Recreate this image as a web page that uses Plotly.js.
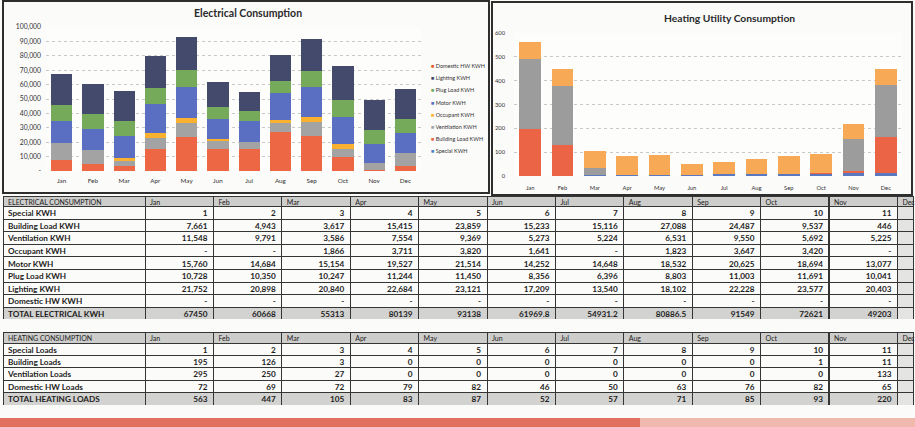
<!DOCTYPE html>
<html><head><meta charset="utf-8">
<script src="https://cdn.plot.ly/plotly-3.0.1.min.js"></script>
<style>html,body{margin:0;padding:0;background:#fbfbfa;}#chart{width:915px;height:427px;}</style>
</head><body><div id="chart"></div>
<script>
// ---------- data ----------
const months = ['Jan','Feb','Mar','Apr','May','Jun','Jul','Aug','Sep','Oct','Nov','Dec'];

// Electrical consumption (kWh); Dec (table column is cut off)
const elecSpecial   = [1,2,3,4,5,6,7,8,9,10,11,12];
const elecBuilding  = [7661,4943,3617,15415,23859,15233,15116,27088,24487,9537,446,3700];
const elecVent      = [11548,9791,3586,7554,9369,5273,5224,6531,9550,5692,5225,8500];
const elecOccupant  = [0,0,1866,3711,3820,1641,0,1823,3647,3420,0,0];
const elecMotor     = [15760,14684,15154,19527,21514,14252,14648,18532,20625,18694,13077,14400];
const elecPlug      = [10728,10350,10247,11244,11450,8356,6396,8803,11003,11691,10041,9700];
const elecLighting  = [21752,20898,20840,22684,23121,17209,13540,18102,22228,23577,20403,20300];
const elecDHW       = [0,0,0,0,0,0,0,0,0,0,0,0];
const elecTotals    = ['67450','60668','55313','80139','93138','61969.8','54931.2','80886.5','91549','72621','49203',''];

// Heating consumption; Dec
const heatSpecial   = [1,2,3,4,5,6,7,8,9,10,11,12];
const heatBuilding  = [195,126,3,0,0,0,0,0,0,1,11,150];
const heatVent      = [295,250,27,0,0,0,0,0,0,0,133,220];
const heatDHW       = [72,69,72,79,82,46,50,63,76,82,65,65];
const heatTotals    = ['563','447','105','83','87','52','57','71','85','93','220',''];

const elecTickVals  = [0,10000,20000,30000,40000,50000,60000,70000,80000,90000,100000];
const elecTickText  = ['-','10,000','20,000','30,000','40,000','50,000','60,000','70,000','80,000','90,000','100,000'];
const heatTickVals  = [0,100,200,300,400,500,600];

const elecRowLabels = ['Special KWH','Building Load KWH','Ventilation KWH','Occupant KWH','Motor KWH','Plug Load KWH','Lighting KWH','Domestic HW KWH','TOTAL ELECTRICAL KWH'];
const heatRowLabels = ['Special Loads','Building Loads','Ventilation Loads','Domestic HW Loads','TOTAL HEATING LOADS'];
const elecLegendNames = ['Domestic HW KWH','Lighting KWH','Plug Load KWH','Motor KWH','Occupant KWH','Ventilation KWH','Building Load KWH','Special KWH'];

// ---------- helpers ----------
const W = 915, H = 427;
const px = x => x / W;
const py = y => 1 - y / H;
const FONT = 'Lato, "Open Sans", sans-serif';
const fmtE = v => v === 0 ? '-' : v.toLocaleString('en-US');
const CLEAR = 'rgba(0,0,0,0)';

const C = {
  special:'#4f7dc6', building:'#ee6744', vent:'#a3a3a3', occupant:'#fbb130',
  motor:'#5b6fc2', plug:'#74aa5a', lighting:'#434a6c', dhw:'#e05a2a',
  hSpecial:'#5a78c0', hBuilding:'#ec6446', hVent:'#9c9c9c', hDHW:'#f8a955'
};

const elecSeries = [
  ['Special KWH', elecSpecial, C.special],
  ['Building Load KWH', elecBuilding, C.building],
  ['Ventilation KWH', elecVent, C.vent],
  ['Occupant KWH', elecOccupant, C.occupant],
  ['Motor KWH', elecMotor, C.motor],
  ['Plug Load KWH', elecPlug, C.plug],
  ['Lighting KWH', elecLighting, C.lighting],
  ['Domestic HW KWH', elecDHW, C.dhw]
];
const heatSeries = [
  ['Special Loads', heatSpecial, C.hSpecial],
  ['Building Loads', heatBuilding, C.hBuilding],
  ['Ventilation Loads', heatVent, C.hVent],
  ['Domestic HW Loads', heatDHW, C.hDHW]
];

const traces = [];
elecSeries.forEach(([name, vals, col]) => traces.push({
  type:'bar', x: months, y: vals, name, marker:{color:col},
  xaxis:'x', yaxis:'y', showlegend:false
}));
heatSeries.forEach(([name, vals, col]) => traces.push({
  type:'bar', x: months, y: vals, name, marker:{color:col},
  xaxis:'x2', yaxis:'y2', showlegend:false
}));

// ---------- tables ----------
const nMonthsShown = 11;
const elecCols = [elecRowLabels];
for (let m = 0; m < 12; m++) {
  if (m < nMonthsShown) {
    elecCols.push([elecSpecial[m], elecBuilding[m], elecVent[m], elecOccupant[m], elecMotor[m],
      elecPlug[m], elecLighting[m], elecDHW[m]].map(fmtE).concat([elecTotals[m]]));
  } else {
    elecCols.push(new Array(9).fill(''));
  }
}
const heatCols = [heatRowLabels];
for (let m = 0; m < 12; m++) {
  if (m < nMonthsShown) {
    heatCols.push([heatSpecial[m], heatBuilding[m], heatVent[m], heatDHW[m]].map(String).concat([heatTotals[m]]));
  } else {
    heatCols.push(new Array(5).fill(''));
  }
}
const LABEL_W = 142, MONTH_W = 68.4;
const widthsFor = total => [LABEL_W].concat(new Array(11).fill(MONTH_W)).concat([total - LABEL_W - 11 * MONTH_W]);

function fills(nRows) {
  const col = [];
  for (let r = 0; r < nRows; r++) col.push(r === nRows - 1 ? '#d2d2d0' : '#fbfbf9');
  const out = [];
  for (let c = 0; c < 13; c++) out.push(c === 12 ? new Array(nRows).fill('#e4e4e2') : col);
  return out;
}

// Each table = three aligned layers: grid (lines+fills), left text, right-aligned numbers
function addTable(title, cols, topY, headerH, rowH) {
  const nRows = cols[0].length;
  const bottomY = topY + headerH + nRows * rowH;
  const headerVals = [title].concat(months);
  const blankCols = cols.map(c => c.map(() => ''));
  const lineCol = '#353535';
  const UP = 4.5;          // raise text to centre it in the rows
  const tTop = topY - UP, tBottom = bottomY - UP + rowH; // one spare row so text is not clipped
  const cellFont = {family:FONT, size:8.2, color:'#1e1e1e', weight:'bold'};
  // grid layer
  traces.push({
    type:'table', domain:{x:[px(3), px(913)], y:[py(bottomY), py(topY)]},
    columnwidth: widthsFor(910),
    header:{values: headerVals.map(() => ''), height: headerH,
      fill:{color:'#cdcdcb'}, line:{color:lineCol, width:1}},
    cells:{values: blankCols, height: rowH,
      fill:{color: fills(nRows)}, line:{color:lineCol, width:1}}
  });
  // left-aligned text layer (header + row labels)
  const leftCols = cols.map((c, i) => (i === 0 ? c : c.map(() => '')).concat(['']));
  traces.push({
    type:'table', domain:{x:[0, 1], y:[py(tBottom), py(tTop)]},
    columnwidth: widthsFor(915),
    header:{values: headerVals, align:'left', height: headerH,
      fill:{color:CLEAR}, line:{color:CLEAR, width:0},
      font:{family:FONT, size:7, color:'#222'}},
    cells:{values: leftCols, align:'left', height: rowH,
      fill:{color:CLEAR}, line:{color:CLEAR, width:0}, font:cellFont}
  });
  // right-aligned numbers layer
  const rightCols = cols.map((c, i) => (i === 0 ? c.map(() => '') : c).concat(['']));
  traces.push({
    type:'table', domain:{x:[px(5), 1], y:[py(tBottom), py(tTop)]},
    columnwidth: widthsFor(910),
    header:{values: headerVals.map(() => ''), height: headerH,
      fill:{color:CLEAR}, line:{color:CLEAR, width:0}},
    cells:{values: rightCols, align:'right', height: rowH,
      fill:{color:CLEAR}, line:{color:CLEAR, width:0}, font:cellFont}
  });
}
addTable('ELECTRICAL CONSUMPTION', elecCols, 196, 10.5, 12.6);
addTable('HEATING CONSUMPTION', heatCols, 332, 11, 12.4);

// ---------- legend (electrical chart) ----------
const legendColors = {'Domestic HW KWH':C.dhw,'Lighting KWH':C.lighting,'Plug Load KWH':C.plug,
  'Motor KWH':C.motor,'Occupant KWH':C.occupant,'Ventilation KWH':C.vent,
  'Building Load KWH':C.building,'Special KWH':C.special};
const legendAnn = elecLegendNames.map((n, i) => ({
  text:'<span style="color:' + legendColors[n] + '">■</span> ' + n,
  xref:'paper', yref:'paper', x:px(429), y:py(66 + i * 12.2), xanchor:'left', yanchor:'middle',
  showarrow:false, font:{family:FONT, size:5.5, color:'#333'}
}));

const axisFont = {family:FONT, size:6.3, color:'#333'};
const layout = {
  width:W, height:H, margin:{l:0,r:0,t:0,b:0},
  paper_bgcolor:'#fbfbfa', plot_bgcolor:'#fdfdfc',
  barmode:'stack', bargap:0.32, showlegend:false,
  font:{family:FONT, color:'#333'},
  xaxis:{domain:[px(46), px(421)], anchor:'y', type:'category', tickfont:axisFont,
    showline:false, ticks:'', ticklabelstandoff:5, fixedrange:true},
  yaxis:{domain:[py(171), py(27)], anchor:'x', range:[0,100000], tickvals:elecTickVals,
    ticktext:elecTickText, tickfont:{...axisFont, size:6.8}, gridcolor:'#c8c8c8', griddash:'dot',
    zeroline:false, ticks:'', ticklabelstandoff:4, fixedrange:true},
  xaxis2:{domain:[px(514), px(902)], anchor:'y2', type:'category', tickfont:{...axisFont, size:5.8},
    showline:false, ticks:'', ticklabelstandoff:7, fixedrange:true},
  yaxis2:{domain:[py(176), py(33)], anchor:'x2', range:[0,600], tickvals:heatTickVals,
    tickfont:{...axisFont, size:5.8}, gridcolor:'#c8c8c8', griddash:'dot',
    zeroline:false, ticks:'', ticklabelstandoff:8, fixedrange:true},
  annotations:[
    {text:'<b>Electrical Consumption</b>', xref:'paper', yref:'paper', x:px(248), y:py(13),
      xanchor:'center', yanchor:'middle', showarrow:false, font:{family:FONT, size:10.5, color:'#2a2a2a'}},
    {text:'<b>Heating Utility Consumption</b>', xref:'paper', yref:'paper', x:px(729), y:py(18),
      xanchor:'center', yanchor:'middle', showarrow:false, font:{family:FONT, size:10.3, color:'#2a2a2a'}}
  ].concat(legendAnn),
  shapes:[
    {type:'rect', xref:'paper', yref:'paper', x0:px(3), x1:px(489), y0:py(193), y1:py(1),
      line:{color:'#2e2e2e', width:2}, layer:'below'},
    {type:'rect', xref:'paper', yref:'paper', x0:px(492), x1:px(912), y0:py(195), y1:py(2),
      line:{color:'#2e2e2e', width:2}, layer:'below'},
    {type:'rect', xref:'paper', yref:'paper', x0:0, x1:px(640), y0:0, y1:py(418),
      fillcolor:'#e2705f', line:{width:0}, layer:'below'},
    {type:'rect', xref:'paper', yref:'paper', x0:px(640), x1:1, y0:0, y1:py(418),
      fillcolor:'#f0b9ae', line:{width:0}, layer:'below'}
  ]
};

Plotly.newPlot('chart', traces, layout, {displayModeBar:false, staticPlot:true});
</script>
</body></html>
